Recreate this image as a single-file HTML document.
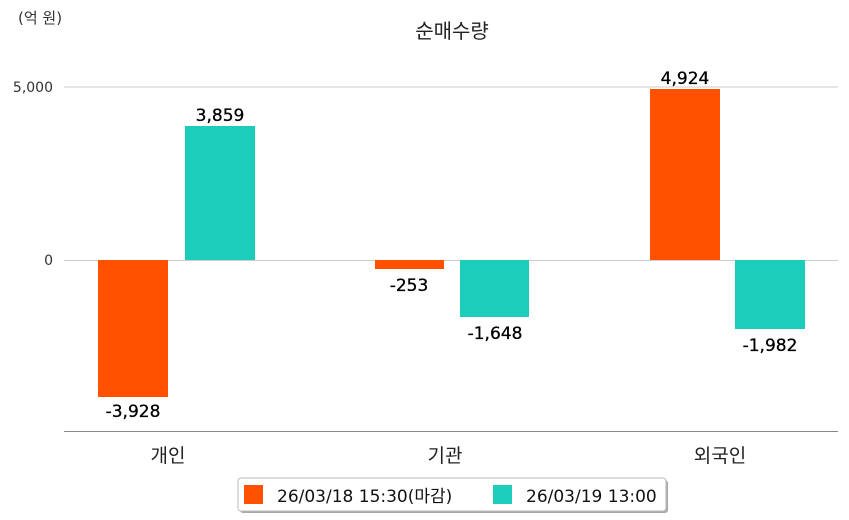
<!DOCTYPE html>
<html><head><meta charset="utf-8"><style>
html,body{margin:0;padding:0;background:#fff;}
svg{display:block;font-family:"DejaVu Sans","Noto Sans CJK KR",sans-serif;}
</style></head><body>
<svg width="849" height="520" viewBox="0 0 849 520" xmlns="http://www.w3.org/2000/svg">
<text x="18" y="23" font-size="15" fill="#333">(억 원)</text>
<text x="452" y="38" font-size="20" fill="#222" text-anchor="middle">순매수량</text>
<line x1="64" y1="87" x2="838" y2="87" stroke="#ccc" stroke-width="1"/>
<line x1="64" y1="260.5" x2="838" y2="260.5" stroke="#ccc" stroke-width="1"/>
<text x="53" y="92" font-size="14" fill="#333" text-anchor="end">5,000</text>
<text x="53" y="265" font-size="14" fill="#333" text-anchor="end">0</text>
<rect x="98" y="260" width="70" height="137" fill="#ff5100"/>
<rect x="185" y="126" width="70" height="134" fill="#1ccdbc"/>
<rect x="375" y="260" width="69" height="9" fill="#ff5100"/>
<rect x="460" y="260" width="69" height="57" fill="#1ccdbc"/>
<rect x="650" y="89" width="70" height="171" fill="#ff5100"/>
<rect x="735" y="260" width="70" height="69" fill="#1ccdbc"/>
<g font-size="17" fill="#000" text-anchor="middle" font-weight="500" stroke="#000" stroke-width="0.3">
<text x="133" y="417">-3,928</text>
<text x="220" y="121">3,859</text>
<text x="409" y="291">-253</text>
<text x="495" y="339">-1,648</text>
<text x="685" y="84">4,924</text>
<text x="770" y="351">-1,982</text>
</g>
<line x1="64" y1="431.5" x2="838" y2="431.5" stroke="#888" stroke-width="1"/>
<g font-size="19" fill="#222" text-anchor="middle">
<text x="168" y="462">개인</text>
<text x="445" y="462">기관</text>
<text x="720" y="462">외국인</text>
</g>
<rect x="240" y="480" width="428" height="33" rx="3" fill="#aaa"/>
<rect x="238" y="478" width="428" height="33" rx="3" fill="#fff" stroke="#bbb"/>
<rect x="244" y="485" width="19" height="19" fill="#ff5100"/>
<text x="277" y="502" font-size="17" fill="#111">26/03/18 15:30(마감)</text>
<rect x="493" y="485" width="19" height="19" fill="#1ccdbc"/>
<text x="526" y="502" font-size="17" fill="#111">26/03/19 13:00</text>
</svg>
</body></html>
